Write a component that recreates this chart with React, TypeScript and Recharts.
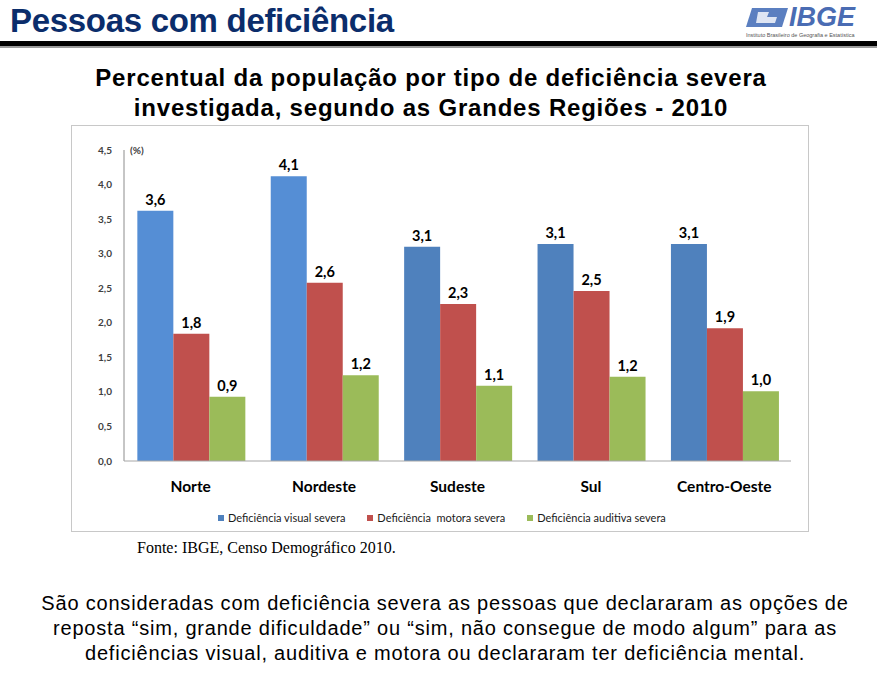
import React from "react";
import { BarChart, Bar, XAxis, YAxis, LabelList, Cell } from "recharts";

const REGIONS = ["Norte", "Nordeste", "Sudeste", "Sul", "Centro-Oeste"];
const VISUAL = [3.62, 4.12, 3.1, 3.14, 3.14];
const MOTORA = [1.84, 2.58, 2.27, 2.46, 1.92];
const AUDITIVA = [0.93, 1.24, 1.09, 1.22, 1.01];
const Y_TICKS = [0, 0.5, 1, 1.5, 2, 2.5, 3, 3.5, 4, 4.5];

const SERIES = [
  { key: "visual", name: "Deficiência visual severa", color: "#4F81BD" },
  { key: "motora", name: "Deficiência  motora severa", color: "#C0504D" },
  { key: "auditiva", name: "Deficiência auditiva severa", color: "#9BBB59" },
];
// the first two blue bars are a lighter shade in the original
const VISUAL_SHADES = ["#558ED5", "#558ED5", "#4F81BD", "#4F81BD", "#4F81BD"];

const data = REGIONS.map((r, i) => ({
  region: r,
  visual: VISUAL[i],
  motora: MOTORA[i],
  auditiva: AUDITIVA[i],
}));

const fmt = (v: number) => v.toFixed(1).replace(".", ",");
const CHART_FONT = "Lato, 'Open Sans', sans-serif";

const CatTick = (props: any) => {
  const { x, y, payload } = props;
  return (
    <text
      x={x}
      y={y + 19}
      textAnchor="middle"
      dominantBaseline="central"
      style={{ fontFamily: CHART_FONT, fontSize: 15.5, fontWeight: 700, fill: "#000" }}
    >
      {payload.value}
    </text>
  );
};

const Logo = () => (
  <svg width={125} height={42} style={{ position: "absolute", left: 744, top: 0 }}>
    <polygon points="8,8 44,8 38,27 2,27" fill="#5b7fc0" />
    <polygon points="14,12 25,12 23,17 33,17 31,23 12,23" fill="#ffffff" opacity={0.8} />
    <text
      x={45}
      y={26}
      style={{ fontFamily: "'Liberation Sans', Arial, sans-serif", fontSize: 27, fontWeight: 700, fontStyle: "italic", fill: "#4a6cb3" }}
    >
      IBGE
    </text>
    <text x={2} y={37} style={{ fontFamily: "'Liberation Sans', Arial, sans-serif", fontSize: 5.5, fill: "#555" }}>
      Instituto Brasileiro de Geografia e Estatística
    </text>
  </svg>
);

export default function App() {
  return (
    <div style={{ position: "absolute", left: 0, top: 0, width: 877, height: 695, background: "#fff", overflow: "hidden" }}>
      <div
        style={{
          position: "absolute",
          left: 10,
          top: 2,
          fontFamily: "'Liberation Sans', Arial, sans-serif",
          fontWeight: 700,
          fontSize: 33,
          color: "#0b2d6b",
          letterSpacing: -0.3,
        }}
      >
        Pessoas com deficiência
      </div>
      <Logo />
      <div style={{ position: "absolute", left: 0, top: 41, width: 877, height: 5, background: "#000" }} />
      <div style={{ position: "absolute", left: 0, top: 46, width: 877, height: 2, background: "#9a9a9a" }} />

      <div
        style={{
          position: "absolute",
          left: 0,
          top: 63,
          width: 862,
          textAlign: "center",
          fontFamily: "'Liberation Sans', Arial, sans-serif",
          fontWeight: 700,
          fontSize: 24,
          lineHeight: "30px",
          color: "#000",
          letterSpacing: 0.8,
        }}
      >
        Percentual da população por tipo de deficiência severa
        <br />
        investigada, segundo as Grandes Regiões - 2010
      </div>

      <div
        style={{
          position: "absolute",
          left: 71,
          top: 125,
          width: 736,
          height: 405,
          border: "1px solid #c8c8c8",
        }}
      >
        <BarChart
          width={736}
          height={405}
          data={data}
          margin={{ top: 24, right: 17, bottom: 0, left: 0 }}
          barCategoryGap="10%"
          barGap={0}
        >
          <YAxis
            width={52}
            domain={[0, 4.5]}
            ticks={Y_TICKS}
            tickFormatter={fmt}
            tickLine={false}
            axisLine={{ stroke: "#8c8c8c" }}
            tickMargin={6}
            interval={0}
            tick={{ fontFamily: CHART_FONT, fontSize: 10, fontWeight: 700, fill: "#404040" }}
          />
          <XAxis
            dataKey="region"
            height={70}
            tickLine={false}
            axisLine={{ stroke: "#a6a6a6" }}
            tick={<CatTick />}
            tickMargin={0}
            interval={0}
          />
          {SERIES.map((s) => (
            <Bar key={s.key} dataKey={s.key} name={s.name} fill={s.color} isAnimationActive={false}>
              {s.key === "visual" &&
                data.map((d, i) => <Cell key={d.region} fill={VISUAL_SHADES[i]} />)}
              <LabelList
                dataKey={s.key}
                position="top"
                offset={6}
                formatter={(v: any) => fmt(Number(v))}
                style={{ fontFamily: CHART_FONT, fontSize: 14.5, fontWeight: 700, fill: "#000" }}
              />
            </Bar>
          ))}
        </BarChart>
        <div
          style={{
            position: "absolute",
            left: 58,
            top: 18,
            fontFamily: CHART_FONT,
            fontSize: 10,
            fontWeight: 700,
            color: "#404040",
          }}
        >
          (%)
        </div>
        <div
          style={{
            position: "absolute",
            left: 146,
            top: 385,
            display: "flex",
            gap: 22,
            fontFamily: CHART_FONT,
            fontSize: 11,
            color: "#1a1a1a",
          }}
        >
          {SERIES.map((s) => (
            <div key={s.key} style={{ display: "flex", alignItems: "center", whiteSpace: "pre" }}>
              <span style={{ display: "inline-block", width: 6, height: 6, background: s.color, marginRight: 4 }} />
              {s.name}
            </div>
          ))}
        </div>
      </div>

      <div
        style={{
          position: "absolute",
          left: 137,
          top: 539,
          fontFamily: "'Liberation Serif', 'Times New Roman', serif",
          fontSize: 16,
          color: "#000",
        }}
      >
        Fonte: IBGE, Censo Demográfico 2010.
      </div>

      <div
        style={{
          position: "absolute",
          left: 0,
          top: 591,
          width: 890,
          textAlign: "center",
          fontFamily: "'Liberation Sans', Arial, sans-serif",
          fontSize: 20,
          lineHeight: "25px",
          color: "#000",
          letterSpacing: 0.8,
        }}
      >
        São consideradas com deficiência severa as pessoas que declararam as opções de
        <br />
        reposta “sim, grande dificuldade” ou “sim, não consegue de modo algum” para as
        <br />
        deficiências visual, auditiva e motora ou declararam ter deficiência mental.
      </div>
    </div>
  );
}
